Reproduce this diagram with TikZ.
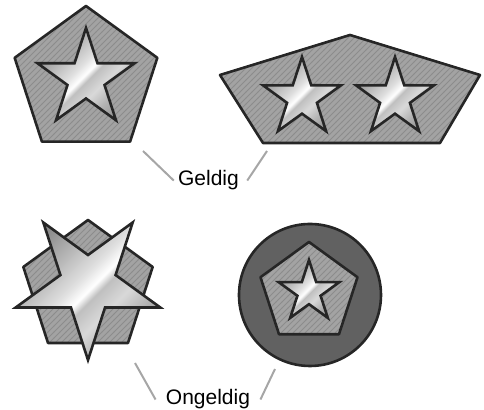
\documentclass[tikz,border=0pt]{standalone}
\usepackage{fontspec}
\setmainfont{Liberation Sans}
\usepackage{tikz}
\usetikzlibrary{patterns}
\pgfdeclarehorizontalshading{chrome}{100bp}{color(0bp)=(gray!95); color(25bp)=(gray!90); color(36bp)=(gray!55); color(45bp)=(gray!25); color(50bp)=(white); color(53bp)=(gray!50); color(60bp)=(gray!30); color(68bp)=(gray!60); color(75bp)=(gray!80); color(100bp)=(gray!85)}
\newcommand{\pentpath}[3]{([shift={(#1)}]#3:#2) \foreach \k in {1,...,4}{ -- ([shift={(#1)}]#3+72*\k:#2)} -- cycle}
\newcommand{\starpath}[4]{([shift={(#1)}]#4:#2) \foreach \k in {1,...,4}{ -- ([shift={(#1)}]#4+72*\k-36:#3) -- ([shift={(#1)}]#4+72*\k:#2)} -- ([shift={(#1)}]#4-36:#3) -- cycle}

\begin{document}
\begin{tikzpicture}[x=0.5pt, y=-0.5pt,
  patch/.style={draw=black!85, line width=1.3pt, line join=round, preaction={fill=gray!72}, pattern=north east lines, pattern color=gray!90},
  badge/.style={draw=black!85, line width=1.3pt, shade, shading=chrome, shading angle=-45},
  disc/.style={draw=black!85, line width=1.3pt, fill=black!62},
  leader/.style={gray!70, line width=1pt},
  lbl/.style={font=\fontsize{10.5}{12}\selectfont, anchor=base}]
\useasboundingbox (0,0) rectangle (484,410);
% geldig
\draw[patch] \pentpath{86,81}{75}{-90};
\draw[badge] \starpath{86,79}{51}{19.5}{-90};
\draw[patch] (350,35) -- (480,75) -- (440,143) -- (263,143) -- (220,75) -- cycle;
\draw[badge] \starpath{302,98}{41}{15.7}{-90};
\draw[badge] \starpath{395,98}{41}{15.7}{-90};
% ongeldig
\draw[patch] \pentpath{88,288}{68}{-90};
\draw[badge] \starpath{88,284}{76}{29}{90};
\draw[disc] (310,295) circle (71);
\draw[patch] \pentpath{309,293}{51}{-90};
\draw[badge] \starpath{309,292}{32}{12.2}{-90};
% labels
\node[lbl, inner xsep=2pt] (geldig) at (208.5,186) {Geldig};
\node[lbl, inner xsep=5pt] (ongeldig) at (208,405) {Ongeldig};
\coordinate (gA) at (143,151);
\coordinate (gB) at (267,151);
\coordinate (oA) at (135,363);
\coordinate (oB) at (275,369);
\draw[leader] (gA) -- (geldig.west);
\draw[leader] (gB) -- ([xshift=2pt]geldig.east);
\draw[leader] (oA) -- (ongeldig.west);
\draw[leader] (oB) -- (ongeldig.east);
\end{tikzpicture}
\end{document}
